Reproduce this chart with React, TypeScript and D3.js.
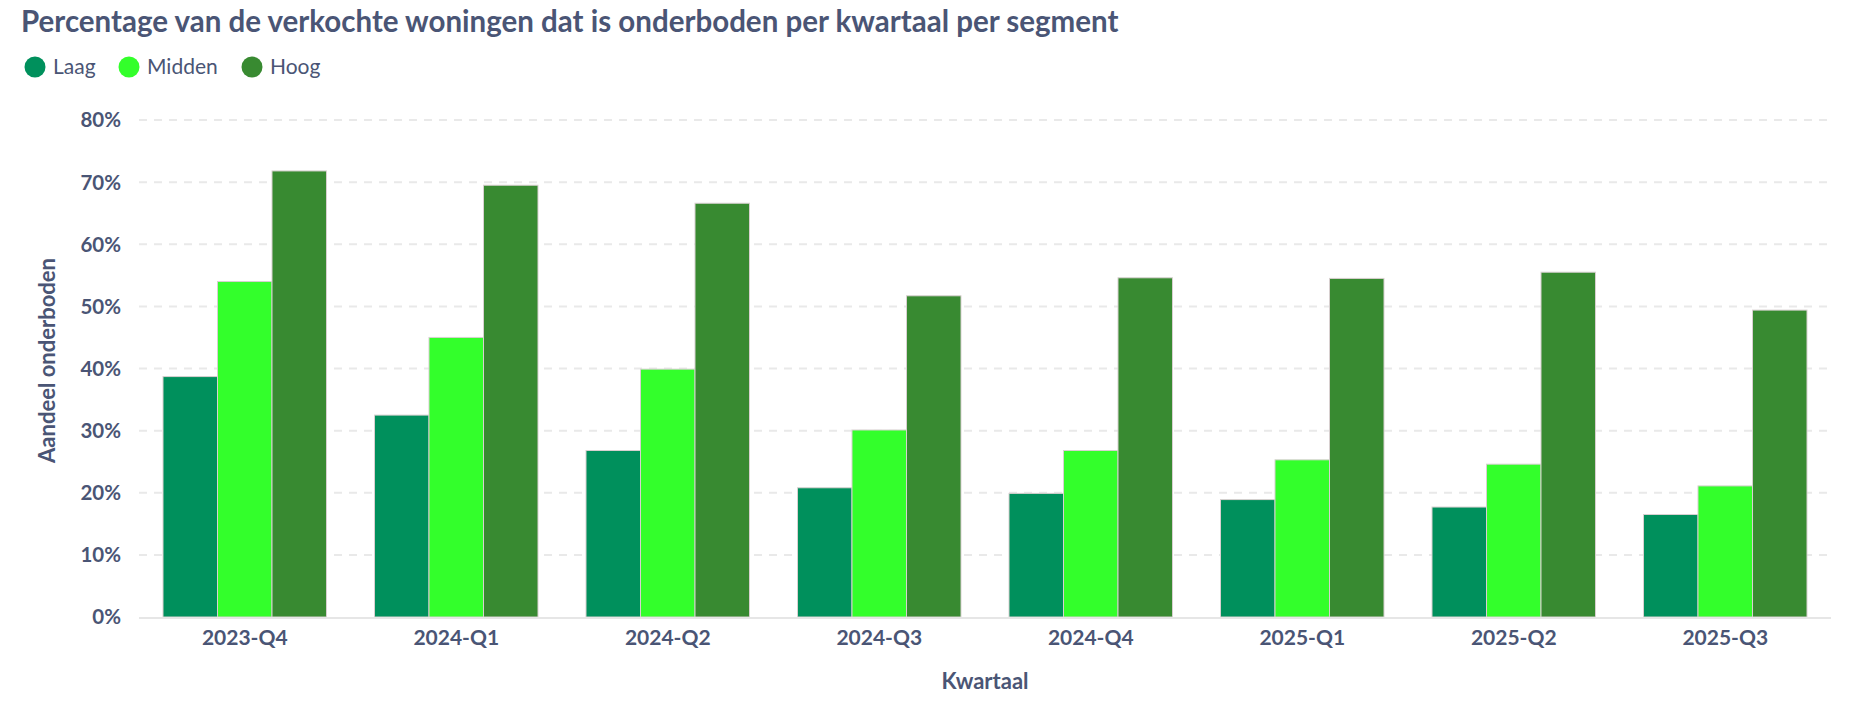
import React from "react";
import * as d3 from "d3";

const categories = ["2023-Q4", "2024-Q1", "2024-Q2", "2024-Q3", "2024-Q4", "2025-Q1", "2025-Q2", "2025-Q3"];
const seriesNames = ["Laag", "Midden", "Hoog"];
const laag = [38.7, 32.5, 26.8, 20.8, 19.9, 18.9, 17.7, 16.5];
const midden = [54.0, 45.0, 39.9, 30.1, 26.8, 25.3, 24.6, 21.1];
const hoog = [71.8, 69.5, 66.6, 51.7, 54.6, 54.5, 55.5, 49.4];
const seriesColors = ["#00905C", "#33FF2B", "#388A31"];
const yTicks = [0, 10, 20, 30, 40, 50, 60, 70, 80];

const W = 1868;
const H = 710;
const TEXT = "#4a5575";
const FONT = "Lato, 'Noto Sans', sans-serif";

export default function App() {
  const values = [laag, midden, hoog];
  const left = 139;
  const right = 1831;
  const top = 120;
  const bottom = 617;

  const x0 = d3.scaleBand<string>().domain(categories).range([left, right]).paddingInner(0.227).paddingOuter(0.1135);
  const x1 = d3.scaleBand<string>().domain(seriesNames).range([0, x0.bandwidth()]).padding(0);
  const y = d3.scaleLinear().domain([0, 80]).range([bottom, top]);

  const legendX = [35, 129, 252];

  return (
    <svg width={W} height={H} style={{ position: "absolute", left: 0, top: 0, background: "#fff" }} fontFamily={FONT}>
      <text x={21} y={32} fontSize={29.5} fontWeight={700} fill={TEXT}>
        Percentage van de verkochte woningen dat is onderboden per kwartaal per segment
      </text>
      {seriesNames.map((s, i) => (
        <g key={s}>
          <circle cx={legendX[i]} cy={67} r={10.5} fill={seriesColors[i]} />
          <text x={legendX[i] + 18} y={74} fontSize={21} fill={TEXT}>
            {s}
          </text>
        </g>
      ))}
      {yTicks.map((t) => (
        <g key={t}>
          {t > 0 && (
            <line x1={left} x2={right} y1={y(t)} y2={y(t)} stroke="#e9e9e9" strokeWidth={2} strokeDasharray="8,7" />
          )}
          <text x={121} y={y(t)} dy="0.36em" textAnchor="end" fontSize={20.5} fontWeight={700} fill={TEXT}>
            {t}%
          </text>
        </g>
      ))}
      {categories.map((c, ci) => (
        <g key={c} transform={`translate(${x0(c)},0)`}>
          {seriesNames.map((s, si) => (
            <rect
              key={s}
              x={x1(s)}
              y={y(values[si][ci])}
              width={x1.bandwidth()}
              height={bottom - y(values[si][ci])}
              fill={seriesColors[si]}
              stroke="#d8d0d0"
              strokeWidth={1}
            />
          ))}
        </g>
      ))}
      <line x1={left} x2={right} y1={bottom + 1} y2={bottom + 1} stroke="#e6e6e6" strokeWidth={2} />
      {categories.map((c) => (
        <text key={c} x={(x0(c) as number) + x0.bandwidth() / 2} y={645} textAnchor="middle" fontSize={21} fontWeight={700} fill={TEXT}>
          {c}
        </text>
      ))}
      <text x={(left + right) / 2} y={689} textAnchor="middle" fontSize={22} fontWeight={700} fill={TEXT}>
        Kwartaal
      </text>
      <text transform={`translate(55, ${(top + bottom) / 2 - 8}) rotate(-90)`} textAnchor="middle" fontSize={22} fontWeight={700} fill={TEXT}>
        Aandeel onderboden
      </text>
    </svg>
  );
}
